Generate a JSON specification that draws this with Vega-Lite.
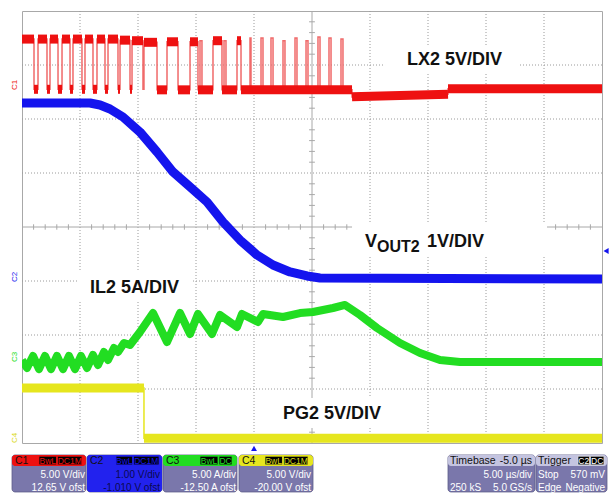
{
"$schema": "https://vega.github.io/schema/vega-lite/v6.json",
"width": 580, "height": 432,
"autosize": {"type": "none"},
"padding": {"left": 22, "top": 11, "right": 13, "bottom": 50},
"background": "white",
"config": {"view": {"stroke": "#a8a8a8", "strokeWidth": 1}, "axis": {"disable": true}, "legend": {"disable": true}, "font": "Liberation Sans"},
"datasets": {
"gt": [{"t":1},{"t":2},{"t":3},{"t":4},{"t":6},{"t":7},{"t":8},{"t":9}],
"gv": [{"v":1},{"v":2},{"v":3},{"v":5},{"v":6},{"v":7}],
"tick_t": [{"t":0.2},{"t":0.4},{"t":0.6},{"t":0.8},{"t":1.2},{"t":1.4},{"t":1.6},{"t":1.8},{"t":2.2},{"t":2.4},{"t":2.6},{"t":2.8},{"t":3.2},{"t":3.4},{"t":3.6},{"t":3.8},{"t":4.2},{"t":4.4},{"t":4.6},{"t":4.8},{"t":5.2},{"t":5.4},{"t":5.6},{"t":5.8},{"t":6.2},{"t":6.4},{"t":6.6},{"t":6.8},{"t":7.2},{"t":7.4},{"t":7.6},{"t":7.8},{"t":8.2},{"t":8.4},{"t":8.6},{"t":8.8},{"t":9.2},{"t":9.4},{"t":9.6},{"t":9.8}],
"tick_v": [{"v":0.2},{"v":0.4},{"v":0.6},{"v":0.8},{"v":1.2},{"v":1.4},{"v":1.6},{"v":1.8},{"v":2.2},{"v":2.4},{"v":2.6},{"v":2.8},{"v":3.2},{"v":3.4},{"v":3.6},{"v":3.8},{"v":4.2},{"v":4.4},{"v":4.6},{"v":4.8},{"v":5.2},{"v":5.4},{"v":5.6},{"v":5.8},{"v":6.2},{"v":6.4},{"v":6.6},{"v":6.8},{"v":7.2},{"v":7.4},{"v":7.6},{"v":7.8}],
"labelbg": [{"t":6.259,"t2":8.586,"v":7.37,"v2":6.833},{"t":5.69,"t2":9.052,"v":4.056,"v2":3.463},{"t":0.948,"t2":2.931,"v":3.167,"v2":2.611},{"t":4.241,"t2":6.431,"v":0.833,"v2":0.278}],
"yl": [{"t":0,"v":1.02},{"t":2.103,"v":1.02},{"t":2.103,"v":0.09},{"t":10,"v":0.09}],
"ys": [{"t":0,"t2":2.103,"v":1.02,"v2":1.02},{"t":2.103,"t2":10,"v":0.09,"v2":0.09}],
"green": [{"t":0,"v":1.537},{"t":0.086,"v":1.389},{"t":0.19,"v":1.611},{"t":0.293,"v":1.37},{"t":0.397,"v":1.611},{"t":0.5,"v":1.37},{"t":0.603,"v":1.611},{"t":0.707,"v":1.37},{"t":0.81,"v":1.611},{"t":0.914,"v":1.37},{"t":1.017,"v":1.611},{"t":1.121,"v":1.389},{"t":1.224,"v":1.63},{"t":1.31,"v":1.444},{"t":1.414,"v":1.685},{"t":1.483,"v":1.537},{"t":1.586,"v":1.759},{"t":1.655,"v":1.685},{"t":1.759,"v":1.852},{"t":1.862,"v":1.815},{"t":2.034,"v":2.056},{"t":2.259,"v":2.407},{"t":2.5,"v":1.87},{"t":2.724,"v":2.407},{"t":2.897,"v":2.019},{"t":3.034,"v":2.389},{"t":3.276,"v":2.019},{"t":3.414,"v":2.37},{"t":3.707,"v":2.148},{"t":3.793,"v":2.389},{"t":4.069,"v":2.241},{"t":4.155,"v":2.389},{"t":4.5,"v":2.333},{"t":4.793,"v":2.407},{"t":5.017,"v":2.426},{"t":5.362,"v":2.5},{"t":5.569,"v":2.556},{"t":5.828,"v":2.37},{"t":6.121,"v":2.13},{"t":6.517,"v":1.852},{"t":6.862,"v":1.667},{"t":7.207,"v":1.537},{"t":7.552,"v":1.5},{"t":10,"v":1.5}],
"blue": [{"t":0,"v":6.296},{"t":1.172,"v":6.296},{"t":1.345,"v":6.259},{"t":1.517,"v":6.185},{"t":1.741,"v":6.037},{"t":2.034,"v":5.759},{"t":2.328,"v":5.389},{"t":2.603,"v":5.019},{"t":2.897,"v":4.741},{"t":3.19,"v":4.463},{"t":3.466,"v":4.093},{"t":3.759,"v":3.759},{"t":4.052,"v":3.481},{"t":4.328,"v":3.296},{"t":4.621,"v":3.167},{"t":4.914,"v":3.093},{"t":5.138,"v":3.056},{"t":10,"v":3.037}],
"rl": [{"t":0,"v":7.48},{"t":0.207,"v":7.48},{"t":0.207,"v":6.55},{"t":0.276,"v":6.55},{"t":0.276,"v":7.48},{"t":0.431,"v":7.48},{"t":0.431,"v":6.55},{"t":0.483,"v":6.55},{"t":0.483,"v":7.48},{"t":0.621,"v":7.48},{"t":0.621,"v":6.55},{"t":0.69,"v":6.55},{"t":0.69,"v":7.48},{"t":0.828,"v":7.48},{"t":0.828,"v":6.55},{"t":0.879,"v":6.55},{"t":0.879,"v":7.48},{"t":1.034,"v":7.48},{"t":1.034,"v":6.55},{"t":1.086,"v":6.55},{"t":1.086,"v":7.48},{"t":1.224,"v":7.48},{"t":1.224,"v":6.55},{"t":1.293,"v":6.55},{"t":1.293,"v":7.48},{"t":1.431,"v":7.48},{"t":1.431,"v":6.55},{"t":1.483,"v":6.55},{"t":1.483,"v":7.48},{"t":1.655,"v":7.48},{"t":1.655,"v":6.55},{"t":1.69,"v":6.55},{"t":1.69,"v":7.46},{"t":1.862,"v":7.46},{"t":1.862,"v":6.55},{"t":1.897,"v":6.55},{"t":1.897,"v":7.45},{"t":2.086,"v":7.45},{"t":2.086,"v":6.55},{"t":2.103,"v":6.55},{"t":2.103,"v":7.42},{"t":2.328,"v":7.42},{"t":2.328,"v":6.54},{"t":2.5,"v":6.54},{"t":2.5,"v":7.43},{"t":2.69,"v":7.43},{"t":2.69,"v":6.54},{"t":2.897,"v":6.54},{"t":2.897,"v":7.43},{"t":3.034,"v":7.43},{"t":3.034,"v":6.54},{"t":3.069,"v":6.54},{"t":3.069,"v":7.45},{"t":3.103,"v":7.45},{"t":3.103,"v":6.54},{"t":3.293,"v":6.54},{"t":3.293,"v":7.45},{"t":3.448,"v":7.45},{"t":3.448,"v":6.54},{"t":3.483,"v":6.54},{"t":3.483,"v":7.45},{"t":3.517,"v":7.45},{"t":3.517,"v":6.54},{"t":3.707,"v":6.54},{"t":3.707,"v":7.45},{"t":3.776,"v":7.45},{"t":3.776,"v":6.54},{"t":3.931,"v":6.54},{"t":3.931,"v":7.5},{"t":3.948,"v":7.5},{"t":3.948,"v":6.54},{"t":4.121,"v":6.54},{"t":4.121,"v":7.5},{"t":4.155,"v":7.5},{"t":4.155,"v":6.54},{"t":4.293,"v":6.54},{"t":4.293,"v":7.5},{"t":4.328,"v":7.5},{"t":4.328,"v":6.54},{"t":4.5,"v":6.54},{"t":4.5,"v":7.45},{"t":4.534,"v":7.45},{"t":4.534,"v":6.54},{"t":4.707,"v":6.54},{"t":4.707,"v":7.5},{"t":4.741,"v":7.5},{"t":4.741,"v":6.54},{"t":4.897,"v":6.54},{"t":4.897,"v":7.45},{"t":4.931,"v":7.45},{"t":4.931,"v":6.54},{"t":5.103,"v":6.54},{"t":5.103,"v":7.52},{"t":5.138,"v":7.52},{"t":5.138,"v":6.54},{"t":5.293,"v":6.54},{"t":5.293,"v":7.5},{"t":5.328,"v":7.5},{"t":5.328,"v":6.54},{"t":5.5,"v":6.54},{"t":5.5,"v":7.48},{"t":5.534,"v":7.48},{"t":5.534,"v":6.54},{"t":5.69,"v":6.54},{"t":5.69,"v":6.41},{"t":7.345,"v":6.46},{"t":7.345,"v":6.56},{"t":10,"v":6.56}],
"rs": [{"t":0,"t2":0.207,"v":7.48,"v2":7.48},{"t":0.207,"t2":0.276,"v":6.55,"v2":6.55},{"t":0.276,"t2":0.431,"v":7.48,"v2":7.48},{"t":0.431,"t2":0.483,"v":6.55,"v2":6.55},{"t":0.483,"t2":0.621,"v":7.48,"v2":7.48},{"t":0.621,"t2":0.69,"v":6.55,"v2":6.55},{"t":0.69,"t2":0.828,"v":7.48,"v2":7.48},{"t":0.828,"t2":0.879,"v":6.55,"v2":6.55},{"t":0.879,"t2":1.034,"v":7.48,"v2":7.48},{"t":1.034,"t2":1.086,"v":6.55,"v2":6.55},{"t":1.086,"t2":1.224,"v":7.48,"v2":7.48},{"t":1.224,"t2":1.293,"v":6.55,"v2":6.55},{"t":1.293,"t2":1.431,"v":7.48,"v2":7.48},{"t":1.431,"t2":1.483,"v":6.55,"v2":6.55},{"t":1.483,"t2":1.655,"v":7.48,"v2":7.48},{"t":1.655,"t2":1.69,"v":6.55,"v2":6.55},{"t":1.69,"t2":1.862,"v":7.46,"v2":7.46},{"t":1.862,"t2":1.897,"v":6.55,"v2":6.55},{"t":1.897,"t2":2.086,"v":7.45,"v2":7.45},{"t":2.103,"t2":2.328,"v":7.42,"v2":7.42},{"t":2.328,"t2":2.5,"v":6.54,"v2":6.54},{"t":2.5,"t2":2.69,"v":7.43,"v2":7.43},{"t":2.69,"t2":2.897,"v":6.54,"v2":6.54},{"t":2.897,"t2":3.034,"v":7.43,"v2":7.43},{"t":3.034,"t2":3.293,"v":6.54,"v2":6.54},{"t":3.293,"t2":3.448,"v":7.45,"v2":7.45},{"t":3.448,"t2":3.707,"v":6.54,"v2":6.54},{"t":3.707,"t2":3.776,"v":7.45,"v2":7.45},{"t":3.776,"t2":5.69,"v":6.54,"v2":6.54},{"t":5.69,"t2":7.345,"v":6.41,"v2":6.46},{"t":7.345,"t2":10,"v":6.56,"v2":6.56}],
"chlab": [{"ch":"C1","t":-0.121,"v":6.63},{"ch":"C2","t":-0.121,"v":3.074},{"ch":"C3","t":-0.121,"v":1.593},{"ch":"C4","t":-0.121,"v":0.093}],
"ann": [{"t":6.638,"v":7.0,"text":"LX2 5V/DIV"},{"t":1.172,"v":2.778,"text":"IL2 5A/DIV"},{"t":4.5,"v":0.444,"text":"PG2 5V/DIV"},{"t":5.914,"v":3.63,"text":"V"},{"t":6.983,"v":3.63,"text":"1V/DIV"}],
"annsub": [{"t":6.12,"v":3.537,"text":"OUT2"}],
"pbody": [{"t":-0.172,"t2":1.103},{"t":1.121,"t2":2.414},{"t":2.431,"t2":3.707},{"t":3.741,"t2":5.017},{"t":7.345,"t2":8.845},{"t":8.862,"t2":10.086}],
"phead": [{"ch":"C1","t":-0.172,"t2":1.103,"v":-0.222,"v2":-0.426},{"ch":"C2","t":1.121,"t2":2.414,"v":-0.222,"v2":-0.907},{"ch":"C3","t":2.431,"t2":3.707,"v":-0.222,"v2":-0.426},{"ch":"C4","t":3.741,"t2":5.017,"v":-0.222,"v2":-0.426},{"ch":"T","t":7.345,"t2":8.845,"v":-0.222,"v2":-0.426},{"ch":"T","t":8.862,"t2":10.086,"v":-0.222,"v2":-0.426}],
"badge": [{"ch":"C1","t":0.293,"t2":0.595,"tc":0.444,"text":"BwL"},{"ch":"C1","t":0.612,"t2":1.034,"tc":0.823,"text":"DC1M"},{"ch":"C2","t":1.621,"t2":1.905,"tc":1.763,"text":"BwL"},{"ch":"C2","t":1.922,"t2":2.362,"tc":2.142,"text":"DC1M"},{"ch":"C3","t":3.069,"t2":3.379,"tc":3.224,"text":"BwL"},{"ch":"C3","t":3.397,"t2":3.621,"tc":3.509,"text":"DC"},{"ch":"C4","t":4.19,"t2":4.491,"tc":4.34,"text":"BwL"},{"ch":"C4","t":4.509,"t2":4.931,"tc":4.72,"text":"DC1M"},{"ch":"T","t":9.586,"t2":9.784,"tc":9.685,"text":"C2"},{"ch":"T","t":9.802,"t2":10.034,"tc":9.918,"text":"DC"}],
"hleft": [{"t":-0.121,"v":-0.389,"text":"C1"},{"t":1.172,"v":-0.389,"text":"C2"},{"t":2.483,"v":-0.389,"text":"C3"},{"t":3.793,"v":-0.389,"text":"C4"},{"t":7.379,"v":-0.389,"text":"Timebase"},{"t":8.897,"v":-0.389,"text":"Trigger"}],
"hright": [{"t":8.793,"v":-0.389,"text":"-5.0 µs"}],
"bright": [{"t":1.086,"v":-0.648,"text":"5.00 V/div"},{"t":1.086,"v":-0.889,"text":"12.65 V ofst"},{"t":3.69,"v":-0.648,"text":"5.00 A/div"},{"t":3.69,"v":-0.889,"text":"-12.50 A ofst"},{"t":4.983,"v":-0.648,"text":"5.00 V/div"},{"t":4.983,"v":-0.889,"text":"-20.00 V ofst"},{"t":8.793,"v":-0.648,"text":"5.00 µs/div"},{"t":8.793,"v":-0.889,"text":"5.0 GS/s"},{"t":10.052,"v":-0.648,"text":"570 mV"},{"t":10.052,"v":-0.889,"text":"Negative"}],
"bleft": [{"t":7.379,"v":-0.889,"text":"250 kS"},{"t":8.897,"v":-0.648,"text":"Stop"},{"t":8.897,"v":-0.889,"text":"Edge"}],
"bc2": [{"t":2.379,"v":-0.648,"text":"1.00 V/div"},{"t":2.379,"v":-0.889,"text":"-1.010 V ofst"}]
},
"layer": [
{"data": {"name": "gt"}, "mark": {"type": "rule", "stroke": "#9a9a9a", "strokeDash": [1, 2], "strokeWidth": 1},
 "encoding": {"x": {"field": "t", "type": "quantitative", "scale": {"domain": [0, 10], "nice": false, "zero": false}, "axis": null}}},
{"data": {"name": "gv"}, "mark": {"type": "rule", "stroke": "#9a9a9a", "strokeDash": [1, 2], "strokeWidth": 1},
 "encoding": {"y": {"field": "v", "type": "quantitative", "scale": {"domain": [0, 8], "nice": false, "zero": false}, "axis": null}}},
{"data": {"values": [{"t": 5}]}, "mark": {"type": "rule", "stroke": "#a8a8a8", "strokeWidth": 1},
 "encoding": {"x": {"field": "t", "type": "quantitative"}}},
{"data": {"values": [{"v": 4}]}, "mark": {"type": "rule", "stroke": "#a8a8a8", "strokeWidth": 1},
 "encoding": {"y": {"field": "v", "type": "quantitative"}}},
{"data": {"name": "tick_t"}, "mark": {"type": "rule", "stroke": "#a8a8a8", "strokeWidth": 1},
 "encoding": {"x": {"field": "t", "type": "quantitative"}, "y": {"datum": 3.95}, "y2": {"datum": 4.05}}},
{"data": {"name": "tick_v"}, "mark": {"type": "rule", "stroke": "#a8a8a8", "strokeWidth": 1},
 "encoding": {"y": {"field": "v", "type": "quantitative"}, "x": {"datum": 4.95}, "x2": {"datum": 5.05}}},
{"data": {"name": "labelbg"}, "mark": {"type": "rect", "fill": "white"},
 "encoding": {"x": {"field": "t", "type": "quantitative"}, "x2": {"field": "t2"}, "y": {"field": "v", "type": "quantitative"}, "y2": {"field": "v2"}}},
{"data": {"name": "yl"}, "mark": {"type": "line", "stroke": "#e6e61e", "strokeWidth": 1.5, "clip": true},
 "encoding": {"x": {"field": "t", "type": "quantitative"}, "y": {"field": "v", "type": "quantitative"}, "order": {"value": null}}},
{"data": {"name": "ys"}, "mark": {"type": "rule", "stroke": "#e6e61e", "strokeWidth": 9, "strokeCap": "butt", "clip": true},
 "encoding": {"x": {"field": "t", "type": "quantitative"}, "x2": {"field": "t2"}, "y": {"field": "v", "type": "quantitative"}, "y2": {"field": "v2"}}},
{"data": {"name": "green"}, "mark": {"type": "line", "stroke": "#22dd22", "strokeWidth": 8, "strokeJoin": "round", "clip": true},
 "encoding": {"x": {"field": "t", "type": "quantitative"}, "y": {"field": "v", "type": "quantitative"}, "order": {"value": null}}},
{"data": {"name": "blue"}, "mark": {"type": "line", "stroke": "#1414ee", "strokeWidth": 9, "strokeJoin": "round", "clip": true},
 "encoding": {"x": {"field": "t", "type": "quantitative"}, "y": {"field": "v", "type": "quantitative"}, "order": {"value": null}}},
{"data": {"name": "rl"}, "mark": {"type": "line", "stroke": "#f06a6a", "strokeWidth": 1.5, "clip": true},
 "encoding": {"x": {"field": "t", "type": "quantitative"}, "y": {"field": "v", "type": "quantitative"}, "order": {"value": null}}},
{"data": {"name": "rs"}, "mark": {"type": "rule", "stroke": "#ee1111", "strokeWidth": 9, "strokeCap": "butt", "clip": true},
 "encoding": {"x": {"field": "t", "type": "quantitative"}, "x2": {"field": "t2"}, "y": {"field": "v", "type": "quantitative"}, "y2": {"field": "v2"}}},
{"data": {"values": [{"t": 10.07, "v": 3.556}]}, "mark": {"type": "point", "shape": "triangle-left", "filled": true, "fill": "#1414ee", "size": 35, "opacity": 1},
 "encoding": {"x": {"field": "t", "type": "quantitative"}, "y": {"field": "v", "type": "quantitative"}}},
{"data": {"values": [{"t": 4.0, "v": -0.1}]}, "mark": {"type": "point", "shape": "triangle-up", "filled": true, "fill": "#1414ee", "size": 35, "opacity": 1},
 "encoding": {"x": {"field": "t", "type": "quantitative"}, "y": {"field": "v", "type": "quantitative"}}},
{"data": {"name": "chlab"}, "mark": {"type": "text", "angle": 270, "fontSize": 8, "align": "center", "baseline": "middle"},
 "encoding": {"x": {"field": "t", "type": "quantitative"}, "y": {"field": "v", "type": "quantitative"}, "text": {"field": "ch"},
  "color": {"field": "ch", "type": "nominal", "scale": {"domain": ["C1", "C2", "C3", "C4", "T"], "range": ["#ee1111", "#1414ee", "#22dd22", "#d8d818", "#ffffff"]}, "legend": null}}},
{"data": {"name": "ann"}, "mark": {"type": "text", "font": "Liberation Sans", "fontWeight": "bold", "fontSize": 18, "align": "left", "baseline": "alphabetic", "fill": "#111111"},
 "encoding": {"x": {"field": "t", "type": "quantitative"}, "y": {"field": "v", "type": "quantitative"}, "text": {"field": "text"}}},
{"data": {"name": "annsub"}, "mark": {"type": "text", "font": "Liberation Sans", "fontWeight": "bold", "fontSize": 16, "align": "left", "baseline": "alphabetic", "fill": "#111111"},
 "encoding": {"x": {"field": "t", "type": "quantitative"}, "y": {"field": "v", "type": "quantitative"}, "text": {"field": "text"}}},
{"data": {"name": "pbody"}, "mark": {"type": "rect", "fill": "#7a77ab", "cornerRadius": 3, "stroke": "#5c5a88", "strokeWidth": 0.8},
 "encoding": {"x": {"field": "t", "type": "quantitative"}, "x2": {"field": "t2"}, "y": {"datum": -0.222}, "y2": {"datum": -0.907}}},
{"data": {"name": "phead"}, "mark": {"type": "rect", "cornerRadius": 3},
 "encoding": {"x": {"field": "t", "type": "quantitative"}, "x2": {"field": "t2"}, "y": {"field": "v", "type": "quantitative"}, "y2": {"field": "v2"},
  "fill": {"field": "ch", "type": "nominal", "scale": {"domain": ["C1", "C2", "C3", "C4", "T"], "range": ["#ee1111", "#2222ee", "#22dd22", "#e6e61e", "#c4c4e0"]}, "legend": null}}},
{"data": {"name": "badge"}, "mark": {"type": "rect", "fill": "#000000", "strokeWidth": 0.8},
 "encoding": {"x": {"field": "t", "type": "quantitative"}, "x2": {"field": "t2"}, "y": {"datum": -0.245}, "y2": {"datum": -0.405},
  "stroke": {"field": "ch", "type": "nominal", "scale": {"domain": ["C1", "C2", "C3", "C4", "T"], "range": ["#ee1111", "#2222ee", "#22dd22", "#e6e61e", "#dddddd"]}, "legend": null}}},
{"data": {"name": "badge"}, "mark": {"type": "text", "font": "Liberation Sans", "fontSize": 8.5, "align": "center", "baseline": "middle"},
 "encoding": {"x": {"field": "tc", "type": "quantitative"}, "y": {"datum": -0.325}, "text": {"field": "text"},
  "color": {"field": "ch", "type": "nominal", "scale": {"domain": ["C1", "C2", "C3", "C4", "T"], "range": ["#ee1111", "#1414ee", "#22dd22", "#d8d818", "#ffffff"]}, "legend": null}}},
{"data": {"name": "hleft"}, "mark": {"type": "text", "font": "Liberation Sans", "fontSize": 10.5, "align": "left", "baseline": "alphabetic", "fill": "#111111"},
 "encoding": {"x": {"field": "t", "type": "quantitative"}, "y": {"field": "v", "type": "quantitative"}, "text": {"field": "text"}}},
{"data": {"name": "hright"}, "mark": {"type": "text", "font": "Liberation Sans", "fontSize": 10.5, "align": "right", "baseline": "alphabetic", "fill": "#111111"},
 "encoding": {"x": {"field": "t", "type": "quantitative"}, "y": {"field": "v", "type": "quantitative"}, "text": {"field": "text"}}},
{"data": {"name": "bright"}, "mark": {"type": "text", "font": "Liberation Sans", "fontSize": 10, "align": "right", "baseline": "alphabetic", "fill": "#ffffff"},
 "encoding": {"x": {"field": "t", "type": "quantitative"}, "y": {"field": "v", "type": "quantitative"}, "text": {"field": "text"}}},
{"data": {"name": "bleft"}, "mark": {"type": "text", "font": "Liberation Sans", "fontSize": 10, "align": "left", "baseline": "alphabetic", "fill": "#ffffff"},
 "encoding": {"x": {"field": "t", "type": "quantitative"}, "y": {"field": "v", "type": "quantitative"}, "text": {"field": "text"}}},
{"data": {"name": "bc2"}, "mark": {"type": "text", "font": "Liberation Sans", "fontSize": 10, "align": "right", "baseline": "alphabetic", "fill": "#0a0a50"},
 "encoding": {"x": {"field": "t", "type": "quantitative"}, "y": {"field": "v", "type": "quantitative"}, "text": {"field": "text"}}}
]
}
